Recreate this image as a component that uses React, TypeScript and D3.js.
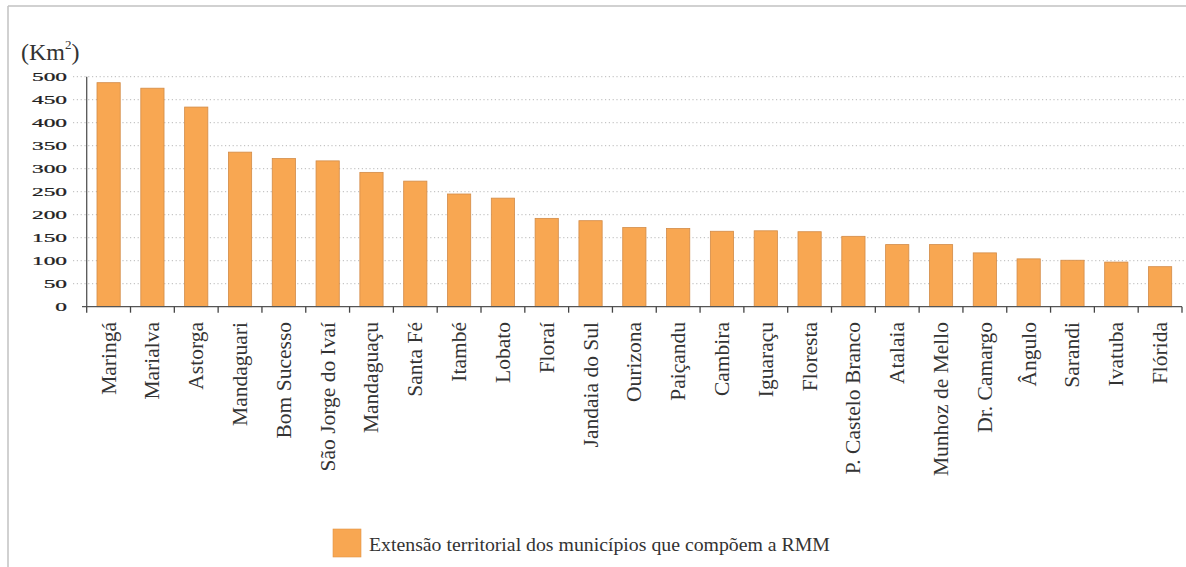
import { useEffect, useRef } from "react";
import * as d3 from "d3";

// extensão territorial (km²) dos municípios da RMM
const municipios = [
  "Maringá", "Marialva", "Astorga", "Mandaguari", "Bom Sucesso",
  "São Jorge do Ivaí", "Mandaguaçu", "Santa Fé", "Itambé", "Lobato",
  "Floraí", "Jandaia do Sul", "Ourizona", "Paiçandu", "Cambira",
  "Iguaraçu", "Floresta", "P. Castelo Branco", "Atalaia", "Munhoz de Mello",
  "Dr. Camargo", "Ângulo", "Sarandi", "Ivatuba", "Flórida",
];
const areas = [
  487, 475, 434, 336, 322,
  317, 292, 273, 245, 236,
  192, 187, 172, 170, 164,
  165, 163, 153, 135, 135,
  117, 104, 101, 97, 87,
];
const yTicks = [0, 50, 100, 150, 200, 250, 300, 350, 400, 450, 500];
const legendLabel = "Extensão territorial dos municípios que compõem a RMM";

const W = 1186;
const H = 567;
const serif = "'Liberation Serif', 'Times New Roman', serif";

export default function App() {
  const axisRef = useRef<SVGGElement>(null);

  const x = d3.scaleBand<string>()
    .domain(municipios)
    .range([86.7, 1182])
    .paddingInner(0.47)
    .paddingOuter(0.235);
  const y = d3.scaleLinear().domain([0, 500]).range([306.7, 76.7]);

  // bordas das categorias, para os tracinhos do eixo x
  const step = x.step();
  const edges = d3.range(municipios.length + 1).map(i => 86.7 + i * step);

  useEffect(() => {
    const g = d3.select(axisRef.current);
    g.selectAll("*").remove();
    g.append("line")
      .attr("x1", 82).attr("x2", 1182)
      .attr("y1", y(0)).attr("y2", y(0))
      .attr("stroke", "#555").attr("stroke-width", 1.3);
    g.append("line")
      .attr("x1", 86.7).attr("x2", 86.7)
      .attr("y1", y(500)).attr("y2", y(0))
      .attr("stroke", "#555").attr("stroke-width", 1.3);
    g.selectAll("line.tk")
      .data(edges)
      .enter().append("line")
      .attr("class", "tk")
      .attr("x1", d => d).attr("x2", d => d)
      .attr("y1", y(0)).attr("y2", y(0) + 6)
      .attr("stroke", "#444").attr("stroke-width", 1.3);
  }, []);

  return (
    <div style={{ position: "absolute", left: 0, top: 0 }}>
      <svg width={W} height={H} style={{ display: "block", background: "#fff" }}>
        {/* moldura */}
        <line x1={8} x2={W} y1={6} y2={6} stroke="#c2c2c2" strokeWidth={1.5} />
        <line x1={8} x2={8} y1={6} y2={H} stroke="#c2c2c2" strokeWidth={1.5} />

        {/* grade */}
        {yTicks.filter(t => t > 0).map(t => (
          <line key={t} x1={73} x2={1184} y1={y(t)} y2={y(t)}
            stroke="#b8b8b8" strokeWidth={1} strokeDasharray="1.2 2.6" />
        ))}

        {/* rótulos do eixo y */}
        {yTicks.map(t => (
          <text key={t} transform={`translate(67,${y(t) + 4.6}) scale(1.8,1)`}
            textAnchor="end" fontFamily={serif} fontSize={13} fill="#222"
            stroke="#222" strokeWidth={0.25}>{t}</text>
        ))}
        <text x={21} y={60} fontFamily={serif} fontSize={24} fill="#333">
          (Km<tspan fontSize={13} dy={-11}>2</tspan><tspan dy={11}>)</tspan>
        </text>

        {/* barras */}
        {municipios.map((m, i) => (
          <rect key={m} x={x(m)} y={y(areas[i])} width={x.bandwidth()}
            height={y(0) - y(areas[i])}
            fill="#F8A752" stroke="#D28B47" strokeWidth={0.8} />
        ))}

        <g ref={axisRef} />

        {/* rótulos das categorias */}
        {municipios.map(m => (
          <text key={m}
            transform={`translate(${(x(m) ?? 0) + x.bandwidth() / 2 + 7},322) rotate(-90)`}
            textAnchor="end" fontFamily={serif} fontSize={21.5} fill="#333">{m}</text>
        ))}

        {/* legenda */}
        <rect x={333} y={529} width={28} height={28} fill="#F8A752" stroke="#E09548" strokeWidth={0.6} />
        <text x={369} y={551} fontFamily={serif} fontSize={19.8} fill="#333">{legendLabel}</text>
      </svg>
    </div>
  );
}
